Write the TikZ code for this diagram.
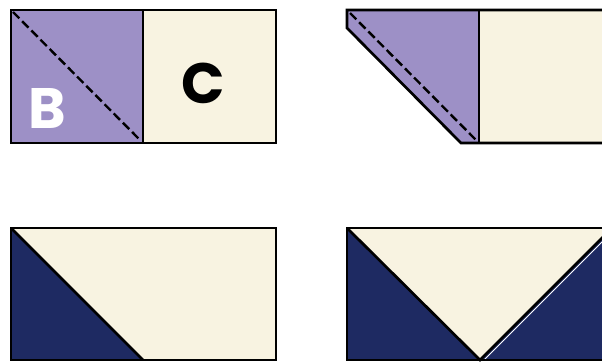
\documentclass[tikz,border=0pt]{standalone}
\usepackage{fontspec}
\setsansfont{Poppins}
\definecolor{lav}{HTML}{9D90C6}
\definecolor{cream}{HTML}{F8F3E1}
\definecolor{navy}{HTML}{1E2A62}
\begin{document}
\begin{tikzpicture}[x=1pt,y=-1pt,
  edge/.style={draw=black,line width=2.7pt,line join=miter},
  seam/.style={black,line width=2.4pt,dash pattern=on 9pt off 4pt},
  letter/.style={inner sep=0pt,font=\sffamily\bfseries\fontsize{57}{57}\selectfont}]
\useasboundingbox (0,0) rectangle (602,362);
\clip (0,0) rectangle (602,362);
% top-left block
\fill[lav] (11,10) rectangle (143,143);
\fill[cream] (143,10) rectangle (276,143);
\draw[seam] (13,12) -- (141,141);
\draw[edge] (11,10) rectangle (276,143);
\draw[edge] (143,10) -- (143,143);
\node[letter,white] (b) at (47,108.5) {B};
\node[letter,black] (c) at (203.5,83.5) {C};
% top-right block
\fill[lav] (347,10) -- (479,10) -- (479,143) -- (461,143) -- (347,28) -- cycle;
\fill[cream] (479,10) rectangle (612,143);
\draw[seam] (350,13) -- (476,140);
\draw[edge] (612,10) -- (347,10) -- (347,28) -- (461,143) -- (612,143);
\draw[edge] (479,10) -- (479,143);
% bottom-left block
\fill[cream] (11,228) rectangle (276,360);
\fill[navy] (11,228) -- (143,360) -- (11,360) -- cycle;
\draw[edge] (11,228) -- (143,360);
\draw[edge] (11,228) rectangle (276,360);
% bottom-right block
\fill[cream] (347,228) rectangle (612,360);
\fill[navy] (347,228) -- (480,360) -- (347,360) -- cycle;
\fill[navy] (480,360) -- (612,228) -- (612,360) -- cycle;
\draw[white,line width=0.8pt] (483,361) -- (612,232);
\draw[edge] (347,228) -- (480,360) -- (612,228);
\draw[edge] (612,228) -- (347,228) -- (347,360) -- (612,360);
\end{tikzpicture}
\end{document}
